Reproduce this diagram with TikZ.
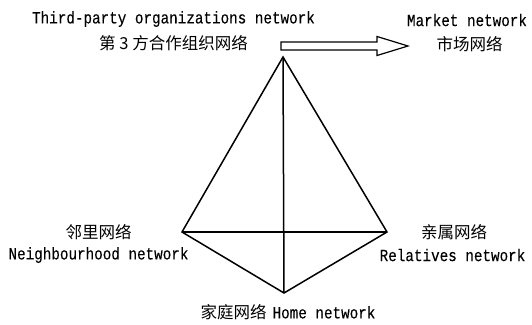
\documentclass[tikz,border=0pt]{standalone}
\usepackage{fontspec}
\setmainfont{Liberation Mono}
\newfontfamily\latfont[FakeStretch=0.84,FakeBold=0.15]{Liberation Mono}
\newfontfamily\cjk{Noto Sans CJK SC}
\begin{document}
\begin{tikzpicture}[x=1pt,y=-1pt,
  edge/.style={line width=1.5pt, line join=miter},
  lat/.style={font=\latfont\fontsize{17}{18}\selectfont, inner sep=0pt, anchor=center},
  han/.style={font=\cjk\fontsize{16.5}{18}\selectfont, inner sep=0pt, anchor=center},
  blockarrow/.style={draw, line width=1.2pt, fill=white, line join=miter}]
\useasboundingbox (0,0) rectangle (532,324);
% vertices
\coordinate (T) at (283,57);
\coordinate (L) at (182,232);
\coordinate (R) at (387,232);
\coordinate (B) at (284,293);
% edges
\draw[edge] (T) -- (L) -- (B) -- (R) -- cycle;
\draw[edge] (L) -- (R);
\draw[edge] (T) -- (B);
% block arrow
\coordinate (AS) at (281,46);
\coordinate (AE) at (408,46);
\draw[blockarrow] (AS) ++(0,-4) -- (377,42) -- (377,36.5) -- (AE) -- (377,55.5) -- (377,50) -- (281,50) -- cycle;
% labels
\node[lat] (tp) at (173.5,19) {Third-party organizations network};
\node[han] (tpc) at (173.5,43) {第 3 方合作组织网络};
\node[lat] (mk) at (467,20) {Market network};
\node[han] (mkc) at (469.5,44) {市场网络};
\node[han] (nbc) at (98.5,232) {邻里网络};
\node[lat] (nb) at (98.5,255) {Neighbourhood network};
\node[han] (rlc) at (454,232) {亲属网络};
\node[lat] (rl) at (452.5,255) {Relatives network};
\node[inner sep=0pt] (hm) at (288,312) {{\cjk\fontsize{16.5}{18}\selectfont 家庭网络} {\latfont\fontsize{17}{18}\selectfont Home network}};
\end{tikzpicture}
\end{document}
